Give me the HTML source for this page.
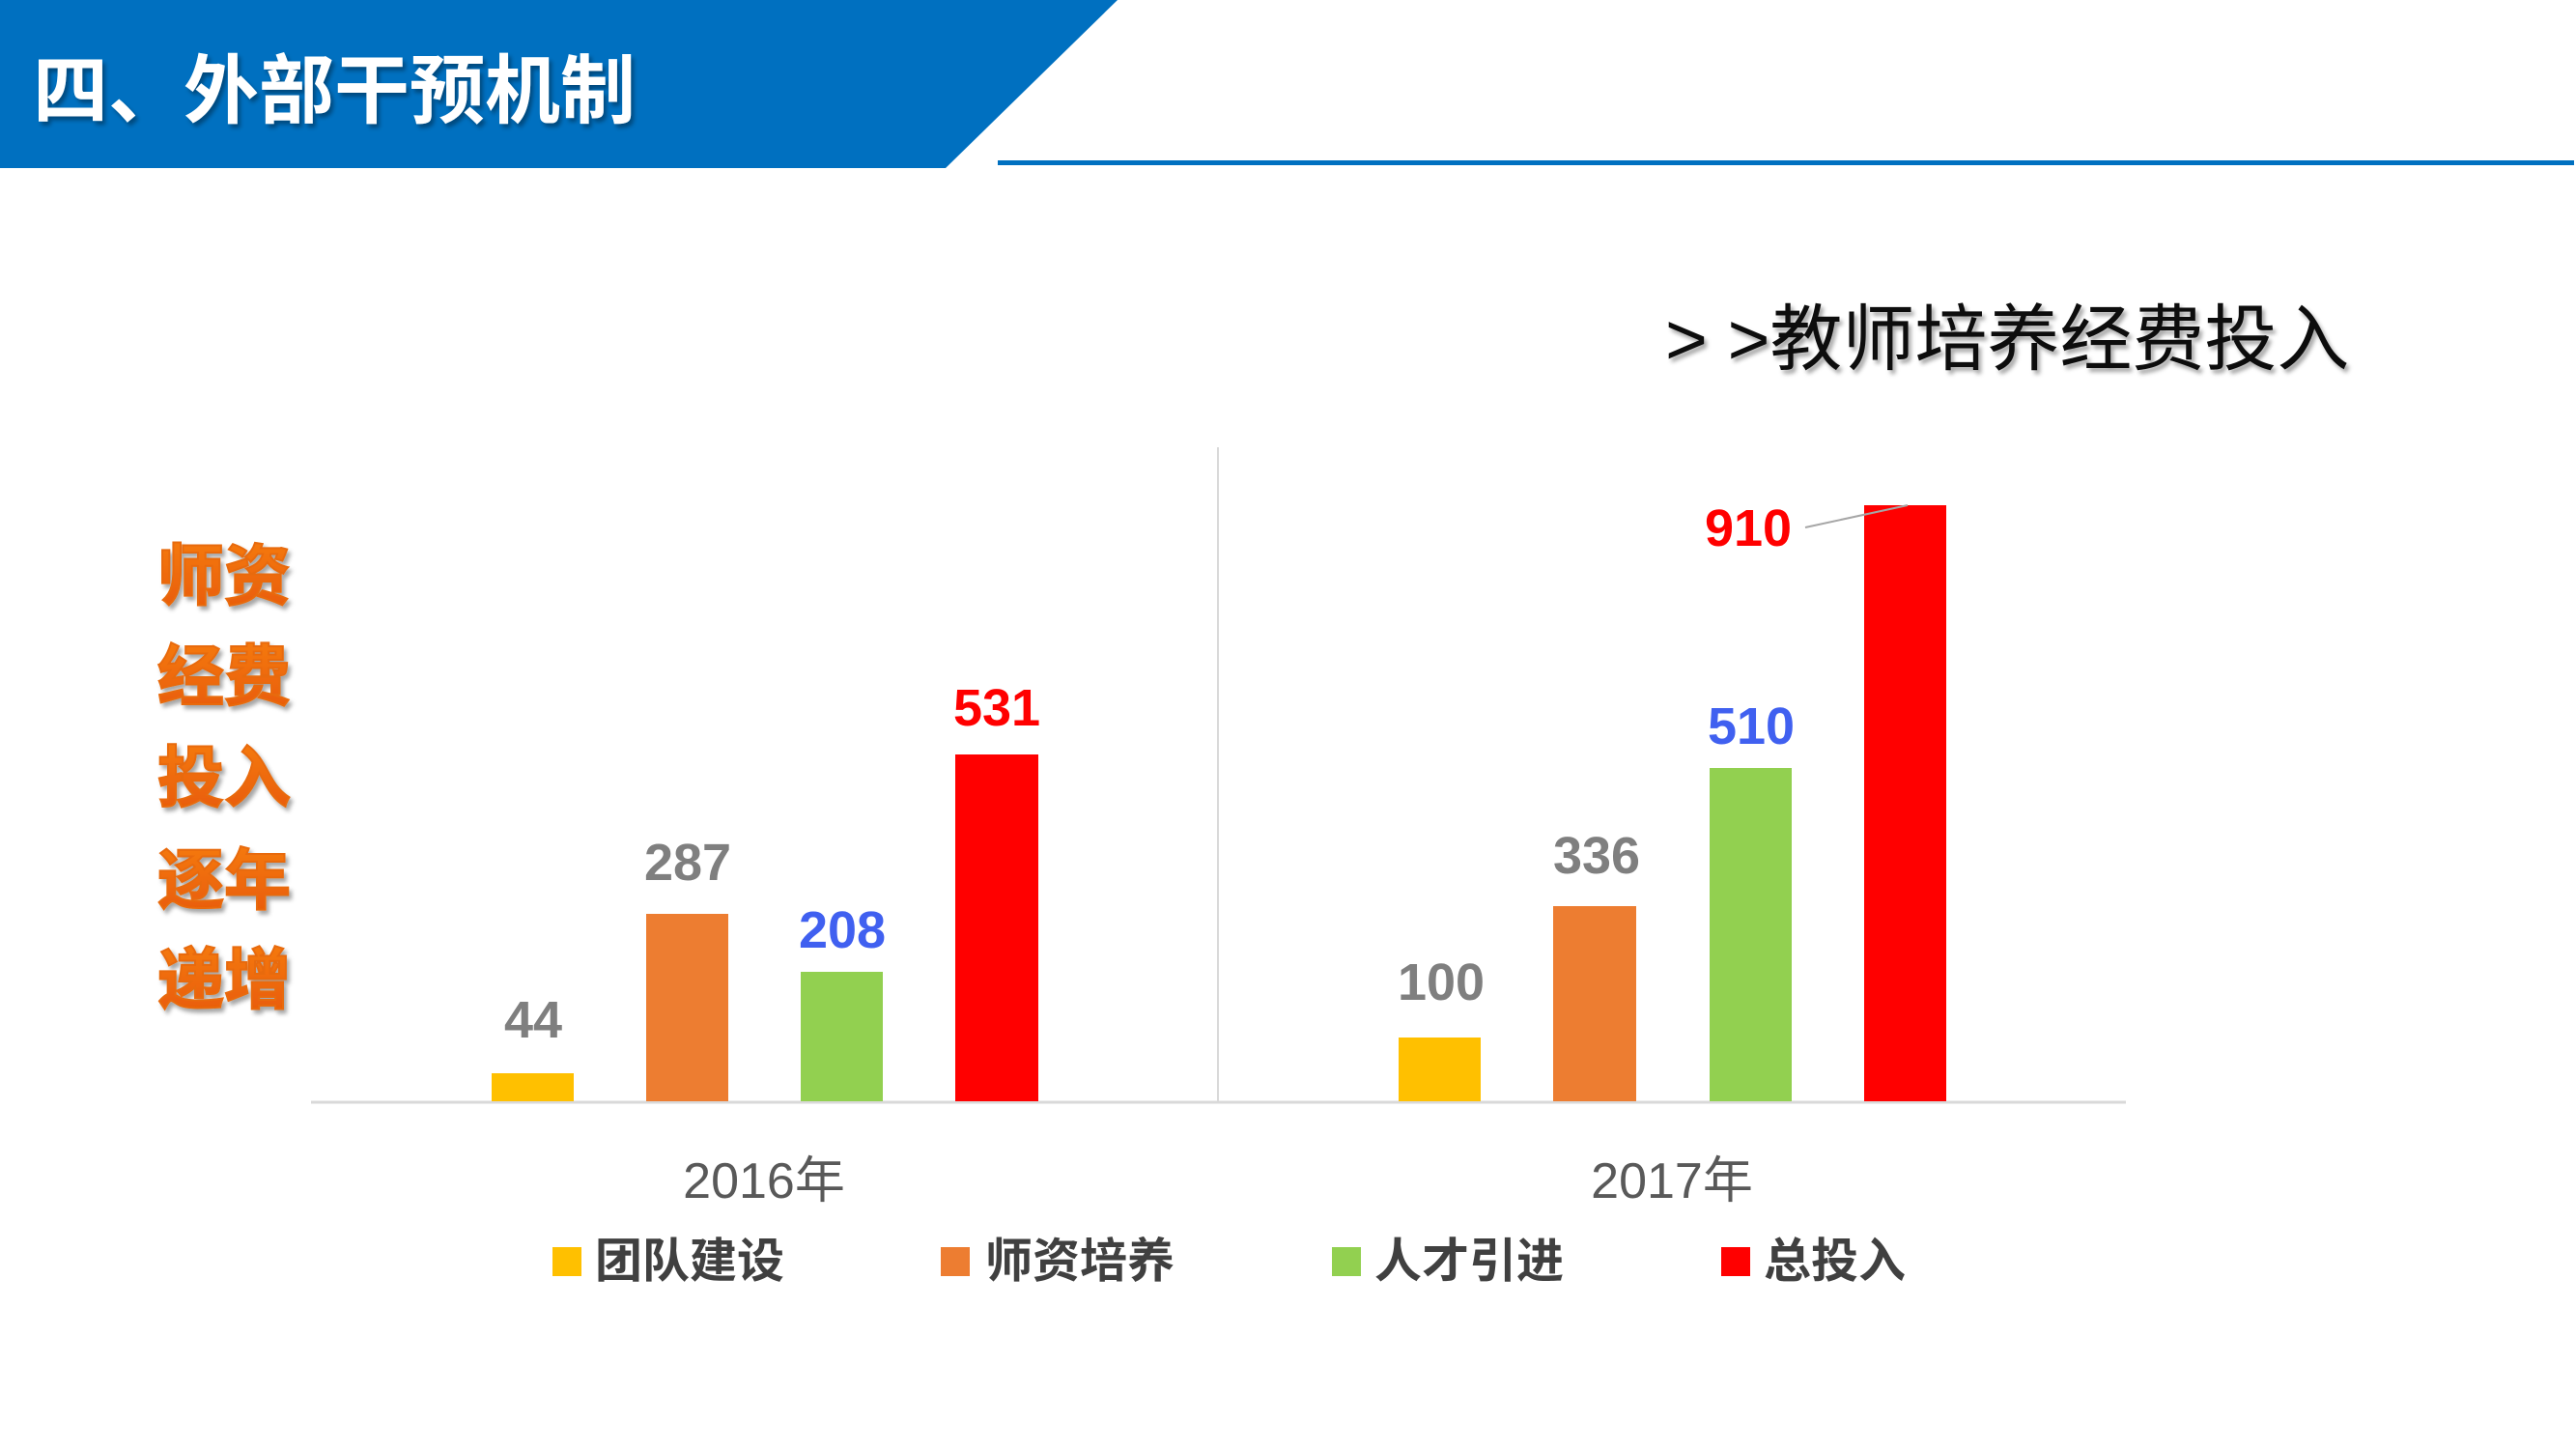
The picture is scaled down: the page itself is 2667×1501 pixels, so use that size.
<!DOCTYPE html>
<html><head><meta charset="utf-8"><style>
html,body{margin:0;padding:0;background:#fff;}
svg{display:block;}
text{font-family:"Liberation Sans","Noto Sans CJK SC",sans-serif;}
</style></head><body>
<svg width="2667" height="1501" viewBox="0 0 2667 1501" xmlns="http://www.w3.org/2000/svg">
<defs>
<linearGradient id="og" x1="0" y1="0" x2="0" y2="1"><stop offset="0" stop-color="#F57A10"/><stop offset="1" stop-color="#E85A05"/></linearGradient>
<filter id="sh" x="-20%" y="-20%" width="140%" height="140%"><feDropShadow dx="3" dy="4" stdDeviation="2" flood-color="#000" flood-opacity="0.35"/></filter>
</defs>
<rect width="2667" height="1501" fill="#fff"/>
<polygon points="0,0 1157,0 979,174 0,174" fill="#0070C0"/>
<rect x="1033" y="166" width="1632" height="5" fill="#0070C0"/>
<text x="34" y="121" font-size="78" font-weight="bold" fill="#fff" filter="url(#sh)">四、外部干预机制</text>
<text x="1724" y="377" font-size="75" fill="#111" filter="url(#sh)">&gt; &gt;教师培养经费投入</text>
<g font-size="69" font-weight="bold" fill="url(#og)" stroke="#E86A0A" stroke-width="2" filter="url(#sh)">
<text x="163" y="620">师资</text>
<text x="163" y="724">经费</text>
<text x="163" y="829">投入</text>
<text x="163" y="935">逐年</text>
<text x="163" y="1038">递增</text>
</g>
<line x1="1261" y1="463" x2="1261" y2="1140" stroke="#D9D9D9" stroke-width="2"/>
<line x1="322" y1="1141" x2="2201" y2="1141" stroke="#D9D9D9" stroke-width="3"/>
<rect x="509" y="1111" width="85" height="29" fill="#FFC000"/>
<rect x="669" y="946" width="85" height="194" fill="#ED7D31"/>
<rect x="829" y="1006" width="85" height="134" fill="#92D050"/>
<rect x="989" y="781" width="86" height="359" fill="#FF0000"/>
<rect x="1448" y="1074" width="85" height="66" fill="#FFC000"/>
<rect x="1608" y="938" width="86" height="202" fill="#ED7D31"/>
<rect x="1770" y="795" width="85" height="345" fill="#92D050"/>
<rect x="1930" y="523" width="85" height="617" fill="#FF0000"/>
<line x1="1869" y1="546" x2="1975" y2="523" stroke="#A6A6A6" stroke-width="2"/>
<g font-size="54" font-weight="bold" text-anchor="middle">
<text x="552" y="1074" fill="#7F7F7F">44</text>
<text x="712" y="911" fill="#7F7F7F">287</text>
<text x="872" y="981" fill="#4060F0">208</text>
<text x="1032" y="751" fill="#FF0000">531</text>
<text x="1492" y="1035" fill="#7F7F7F">100</text>
<text x="1653" y="904" fill="#7F7F7F">336</text>
<text x="1813" y="770" fill="#4060F0">510</text>
<text x="1810" y="565" fill="#FF0000">910</text>
</g>
<g font-size="52" fill="#595959" text-anchor="middle">
<text x="791" y="1240">2016年</text>
<text x="1731" y="1240">2017年</text>
</g>
<g font-size="49" font-weight="bold" fill="#404040">
<rect x="572" y="1291" width="30" height="30" fill="#FFC000"/><text x="616" y="1322">团队建设</text>
<rect x="974" y="1291" width="30" height="30" fill="#ED7D31"/><text x="1020" y="1322">师资培养</text>
<rect x="1379" y="1291" width="30" height="30" fill="#92D050"/><text x="1423" y="1322">人才引进</text>
<rect x="1782" y="1291" width="30" height="30" fill="#FF0000"/><text x="1826" y="1322">总投入</text>
</g>
</svg>
</body></html>
